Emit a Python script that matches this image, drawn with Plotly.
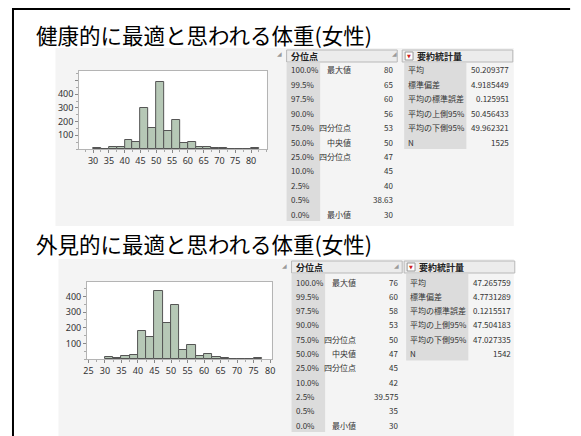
import plotly.graph_objects as go

# the page body has an 8px margin, so the figure is drawn 8px in from the corner
OFF = 8
W, H = 581 - OFF, 436 - OFF

bins_1 = [30, 32.5, 35, 37.5, 40, 42.5, 45, 47.5, 50, 52.5, 55, 57.5, 60, 62.5, 65, 67.5, 70, 72.5, 75, 77.5, 80]
counts_1 = [7, 0, 12, 12, 65, 49, 300, 153, 490, 135, 212, 42, 49, 14, 12, 7, 7, 0, 0, 0, 7]

bins_2 = [30, 32.5, 35, 37.5, 40, 42.5, 45, 47.5, 50, 52.5, 55, 57.5, 60, 62.5, 65, 67.5, 70, 72.5, 75]
counts_2 = [10, 6, 19, 25, 181, 143, 436, 230, 343, 57, 89, 21, 32, 11, 6, 1, 1, 0, 6]

titles = ['健康的に最適と思われる体重(女性)', '外見的に最適と思われる体重(女性)']

q_pct = ['100.0%', '99.5%', '97.5%', '90.0%', '75.0%', '50.0%', '25.0%', '10.0%', '2.5%', '0.5%', '0.0%']
q_lbl = ['最大値', '', '', '', '四分位点', '中央値', '四分位点', '', '', '', '最小値']
q_val_1 = ['80', '65', '60', '56', '53', '50', '47', '45', '40', '38.63', '30']
q_val_2 = ['76', '60', '58', '53', '50', '47', '45', '42', '39.575', '35', '30']

s_lbl = ['平均', '標準偏差', '平均の標準誤差', '平均の上側95%', '平均の下側95%', 'N']
s_val_1 = ['50.209377', '4.9185449', '0.125951', '50.456433', '49.962321', '1525']
s_val_2 = ['47.265759', '4.7731289', '0.1215517', '47.504183', '47.027335', '1542']

JP = 'Noto Sans CJK JP'
BAR = '#b6c8b6'
EDGE = '#555555'


def px(x):
    return (x - OFF) / W


def py(y):
    return 1 - (y - OFF) / H


fig = go.Figure()
fig.add_trace(go.Bar(x=bins_1, y=counts_1, width=2.5, offset=0, xaxis='x', yaxis='y',
                     marker=dict(color=BAR, line=dict(color=EDGE, width=1))))
fig.add_trace(go.Bar(x=bins_2, y=counts_2, width=2.5, offset=0, xaxis='x2', yaxis='y2',
                     marker=dict(color=BAR, line=dict(color=EDGE, width=1))))

shapes = []
annotations = []


def rect(x0, y0, x1, y1, fill, line=None, lw=1):
    shapes.append(dict(type='rect', xref='paper', yref='paper', layer='below',
                       x0=px(x0), x1=px(x1), y0=py(y1), y1=py(y0),
                       fillcolor=fill, line=dict(color=line or fill, width=lw if line else 0)))


def text(x, y, s, size=8, anchor='left', color='#333333', bold=False, font=JP):
    annotations.append(dict(xref='paper', yref='paper', x=px(x), y=py(y), text='<b>%s</b>' % s if bold else s,
                            showarrow=False, xanchor=anchor, yanchor='middle',
                            font=dict(family=font, size=size, color=color)))


# outer frame
shapes.append(dict(type='line', xref='paper', yref='paper', x0=px(9), x1=px(9), y0=0, y1=py(8),
                   line=dict(color='black', width=2)))
shapes.append(dict(type='line', xref='paper', yref='paper', x0=px(8), x1=px(573), y0=py(9), y1=py(9),
                   line=dict(color='black', width=2)))

sections = [
    dict(title_y=35, panel=(52, 48, 516, 226), frame=(76, 71, 266, 149), hdr=56, row0=70, pitch=14.4,
         qx=286, sx=403, qv=q_val_1, sv=s_val_1),
    dict(title_y=243, panel=(55, 259, 516, 436), frame=(84, 282, 271, 359), hdr=267, row0=282, pitch=14.3,
         qx=291, sx=405, qv=q_val_2, sv=s_val_2),
]

for i, sec in enumerate(sections):
    text(30, sec['title_y'], titles[i], size=21.5, color='black')
    rect(*sec['panel'], '#f4f4f4')
    fx0, fy0, fx1, fy1 = sec['frame']
    rect(fx0, fy0, fx1, fy1, 'white')

    # quantiles
    qx, hdr, r0, p = sec['qx'], sec['hdr'], sec['row0'], sec['pitch']
    rect(qx, hdr - 6, qx + 112, hdr + 6, '#ececec', '#b8b8b8')
    text(qx - 3, hdr - 2, '◢', size=6, anchor='right', color='#9a9a9a', font='DejaVu Sans')
    text(qx + 2, hdr, '分位点', size=9, bold=True, color='#222222')
    rect(qx, hdr + 7, qx + 34, r0 + p * 10 + 7, '#dcdcdc')
    for k in range(len(q_pct)):
        y = r0 + p * k
        text(qx + 2, y, q_pct[k])
        if q_lbl[k]:
            text(qx + 67, y, q_lbl[k], anchor='right')
        text(qx + 110, y, sec['qv'][k], anchor='right')

    # summary
    sx = sec['sx']
    rect(sx, hdr - 6, sx + 112, hdr + 6, '#ececec', '#b8b8b8')
    text(sx - 3, hdr - 2, '◢', size=6, anchor='right', color='#9a9a9a', font='DejaVu Sans')
    rect(sx + 3, hdr - 4, sx + 11, hdr + 4, 'white', '#999999')
    text(sx + 7, hdr, '▼', size=5, anchor='center', color='#d02020', font='DejaVu Sans')
    text(sx + 13, hdr, '要約統計量', size=9, bold=True, color='#222222')
    rect(sx + 2, hdr + 7, sx + 65, r0 + p * 5 + 7, '#dcdcdc')
    for k in range(len(s_lbl)):
        y = r0 + p * k
        text(sx + 4, y, s_lbl[k])
        text(sx + 110, y, sec['sv'][k], anchor='right')

axis_font = dict(family='Noto Sans', size=9, color='#333333')
common_x = dict(showgrid=False, zeroline=False, showline=True, mirror=True, linecolor='#b4b4b4',
                ticks='outside', ticklen=3, tickcolor='#888888', tickfont=axis_font,
                tickvals=[30, 35, 40, 45, 50, 55, 60, 65, 70, 75, 80],
                minor=dict(dtick=2.5, ticks='outside', ticklen=2, tickcolor='#aaaaaa'))
common_y = dict(showgrid=False, zeroline=False, showline=True, mirror=True, linecolor='#b4b4b4',
                ticks='outside', ticklen=3, tickcolor='#888888', tickfont=axis_font,
                minor=dict(dtick=50, ticks='outside', ticklen=2, tickcolor='#aaaaaa'))

f1, f2 = sections[0]['frame'], sections[1]['frame']
fig.update_layout(
    width=W, height=H,
    margin=dict(l=0, r=0, t=0, b=0),
    paper_bgcolor='white', plot_bgcolor='rgba(0,0,0,0)',
    showlegend=False, bargap=0,
    xaxis=dict(common_x, domain=[px(f1[0]), px(f1[2])], range=[25.6, 85], anchor='y'),
    yaxis=dict(common_y, domain=[py(f1[3]), py(f1[1])], range=[0, 570], anchor='x',
               tickvals=[100, 200, 300, 400, 500], ticktext=['100', '200', '300', '400', '']),
    xaxis2=dict(common_x, domain=[px(f2[0]), px(f2[2])], range=[24.6, 80.5], anchor='y2',
                tickvals=[25, 30, 35, 40, 45, 50, 55, 60, 65, 70, 75, 80]),
    yaxis2=dict(common_y, domain=[py(f2[3]), py(f2[1])], range=[0, 493], anchor='x2',
                tickvals=[100, 200, 300, 400]),
    shapes=shapes,
    annotations=annotations,
)

fig.write_html('out.html')
